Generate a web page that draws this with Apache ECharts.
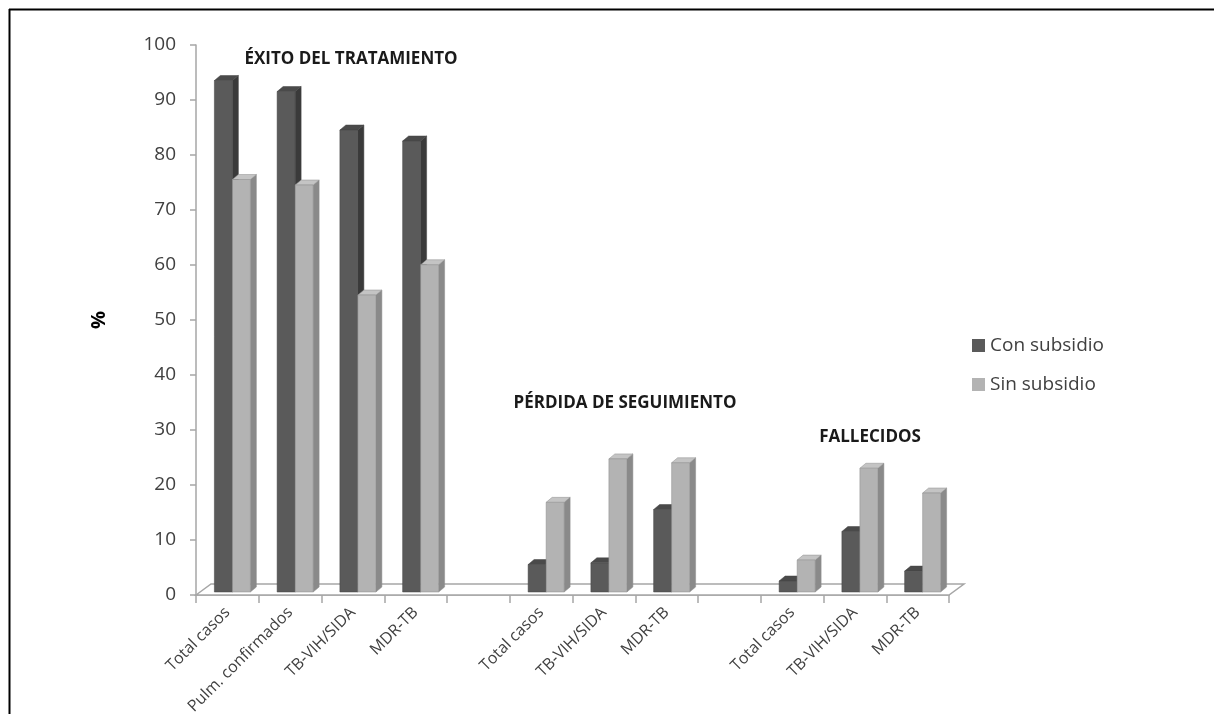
<!DOCTYPE html>
<html>
<head>
<meta charset="utf-8">
<script src="https://cdn.jsdelivr.net/npm/echarts@6/dist/echarts.min.js"></script>
<style>
html,body{margin:0;padding:0;background:#fff;}
#chart{width:1214px;height:714px;}
</style>
</head>
<body>
<div id="chart"></div>
<script>
var categories = ['Total casos','Pulm. confirmados','TB-VIH/SIDA','MDR-TB','',
                  'Total casos','TB-VIH/SIDA','MDR-TB','',
                  'Total casos','TB-VIH/SIDA','MDR-TB'];
var conSubsidio = [93, 91, 84, 82, null, 5, 5.3, 15, null, 2, 11, 3.8];
var sinSubsidio = [75, 74, 54, 59.5, null, 16.3, 24.2, 23.5, null, 5.8, 22.5, 18];
var seriesNames = ['Con subsidio', 'Sin subsidio'];
var groupTitles = ['ÉXITO DEL TRATAMIENTO', 'PÉRDIDA DE SEGUIMIENTO', 'FALLECIDOS'];
var yTicks = [0, 100, 10];

var FONT = '"Open Sans", "DejaVu Sans", sans-serif';
var chart = echarts.init(document.getElementById('chart'));

function toPairs(arr) {
  var out = [];
  arr.forEach(function (v, i) { if (v !== null) out.push([i, v]); });
  return out;
}

var faces = [
  { front: '#5a5a5a', side: '#3a3a3a', top: '#4a4a4a', edge: '#454545' },
  { front: '#b3b3b3', side: '#8a8a8a', top: '#c4c4c4', edge: '#8f8f8f' }
];

function makeBarRender(k) {
  return function (params, api) {
    var idx = api.value(0), v = api.value(1);
    var top = api.coord([idx, v]);
    var base = api.coord([idx, 0]);
    var barW = 18, sx = 5, lift = 3, dx = 6, dy = -5;
    var x0 = top[0] + sx + (k === 0 ? -barW : 0);
    var x1 = x0 + barW;
    var yT = top[1] - lift, yB = base[1] - lift;
    var f = faces[k];
    return {
      type: 'group',
      children: [
        { type: 'polygon', shape: { points: [[x1, yB], [x1 + dx, yB + dy], [x1 + dx, yT + dy], [x1, yT]] },
          style: { fill: f.side, stroke: f.edge, lineWidth: 0.5 } },
        { type: 'polygon', shape: { points: [[x0, yT], [x0 + dx, yT + dy], [x1 + dx, yT + dy], [x1, yT]] },
          style: { fill: f.top, stroke: f.edge, lineWidth: 0.5 } },
        { type: 'rect', shape: { x: x0, y: yT, width: barW, height: yB - yT },
          style: { fill: f.front, stroke: f.edge, lineWidth: 0.5 } }
      ]
    };
  };
}

function floorRender(params, api) {
  var cs = params.coordSys;
  var y0 = api.coord([0, 0])[1];
  var xl = cs.x, xr = cs.x + cs.width;
  var dx = 15, dy = -11;
  return {
    type: 'polygon',
    shape: { points: [[xl, y0], [xl + dx, y0 + dy], [xr + dx, y0 + dy], [xr, y0]] },
    style: { fill: '#ffffff', stroke: '#a6a6a6', lineWidth: 1.5 },
    silent: true
  };
}

function titleText(t, x, y) {
  return { type: 'text', x: x, y: y,
    style: { text: t, font: 'bold 17px ' + FONT, fill: '#1a1a1a', textAlign: 'center', textVerticalAlign: 'middle' } };
}

var option = {
  animation: false,
  textStyle: { fontFamily: FONT },
  grid: { left: 196, top: 45, width: 753, height: 550, containLabel: false, outerBoundsMode: 'none' },
  legend: {
    orient: 'vertical',
    left: 967,
    top: 331,
    itemWidth: 13,
    itemHeight: 13,
    itemGap: 20,
    icon: 'rect',
    textStyle: { fontSize: 19, color: '#404040', fontFamily: FONT },
    data: seriesNames
  },
  xAxis: {
    type: 'category',
    data: categories,
    boundaryGap: true,
    axisLine: { show: true, lineStyle: { color: '#a6a6a6', width: 1.5 } },
    axisTick: { show: true, length: 8, lineStyle: { color: '#a6a6a6', width: 1.5 }, interval: 0 },
    axisLabel: { interval: 0, rotate: 45, fontSize: 16, color: '#404040', margin: 15, fontFamily: FONT },
    splitLine: { show: false }
  },
  yAxis: {
    type: 'value',
    min: yTicks[0], max: yTicks[1], interval: yTicks[2],
    name: '%',
    nameLocation: 'middle',
    nameRotate: 90,
    nameGap: 87,
    nameTextStyle: { fontSize: 20, fontWeight: 'bold', color: '#000', fontFamily: FONT },
    axisLine: { show: true, lineStyle: { color: '#a6a6a6', width: 1.5 } },
    axisTick: { show: true, length: 6, lineStyle: { color: '#a6a6a6', width: 1.5 } },
    axisLabel: { fontSize: 19, color: '#404040', margin: 20, fontFamily: FONT },
    splitLine: { show: false }
  },
  graphic: [
    { type: 'line', shape: { x1: 9, y1: 9.5, x2: 1214, y2: 9.5 }, style: { stroke: '#000', lineWidth: 2 } },
    { type: 'line', shape: { x1: 9.5, y1: 9, x2: 9.5, y2: 714 }, style: { stroke: '#000', lineWidth: 2 } },
    titleText(groupTitles[0], 351, 59),
    titleText(groupTitles[1], 625, 403),
    titleText(groupTitles[2], 870, 437)
  ],
  series: [
    { type: 'custom', name: '_floor', renderItem: floorRender, data: [[0, 0]], z: 1, silent: true,
      encode: { x: 0, y: 1 } },
    { type: 'custom', name: seriesNames[0], renderItem: makeBarRender(0), data: toPairs(conSubsidio), z: 2,
      itemStyle: { color: faces[0].front }, encode: { x: 0, y: 1 } },
    { type: 'custom', name: seriesNames[1], renderItem: makeBarRender(1), data: toPairs(sinSubsidio), z: 3,
      itemStyle: { color: faces[1].front }, encode: { x: 0, y: 1 } }
  ]
};
chart.setOption(option);
</script>
</body>
</html>
